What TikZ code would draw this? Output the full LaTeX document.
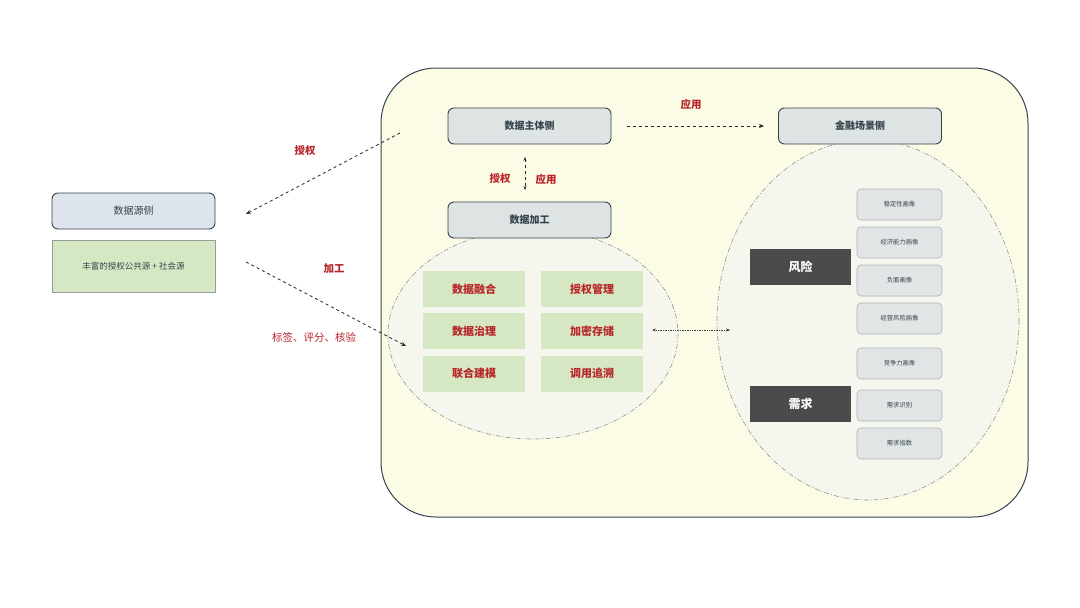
\documentclass[tikz,border=0pt]{standalone}
\usepackage{fontspec}
\setmainfont{Noto Sans CJK SC}
\usetikzlibrary{arrows.meta}
\definecolor{bigfill}{HTML}{FBFBE6}
\definecolor{ellfill}{HTML}{F5F7EF}
\definecolor{edge}{HTML}{34434C}
\definecolor{srcfill}{HTML}{DEE4EC}
\definecolor{boxfill}{HTML}{DEE3E3}
\definecolor{greenfill}{HTML}{D5E8C3}
\definecolor{redtxt}{HTML}{B8262A}
\definecolor{darkbox}{HTML}{4B4B4B}
\definecolor{smallfill}{HTML}{E1E5E6}
\definecolor{smalledge}{HTML}{AEB4B6}
\tikzset{
  mainbox/.style={draw=edge, line width=0.9pt, rounded corners=6pt, fill=boxfill, minimum width=163pt, minimum height=36pt, inner sep=0pt, font=\fontsize{10}{12}\selectfont\bfseries, text=edge},
  cell/.style={fill=greenfill, minimum width=102pt, minimum height=36pt, inner sep=0pt, font=\fontsize{11}{13}\selectfont\bfseries, text=redtxt},
  darkcell/.style={fill=darkbox, minimum width=101pt, minimum height=36pt, inner sep=0pt, font=\fontsize{12}{14}\selectfont\bfseries, text=white},
  smallbox/.style={draw=smalledge, line width=0.6pt, rounded corners=4pt, fill=smallfill, minimum width=85pt, minimum height=31pt, inner sep=0pt, font=\fontsize{6.3}{8}\selectfont, text=edge},
  lbl/.style={font=\fontsize{10.5}{12}\selectfont\bfseries, text=redtxt, inner sep=0pt},
  lblthin/.style={font=\fontsize{10.5}{12}\selectfont, text=redtxt, inner sep=0pt},
  dasharrow/.style={dashed, line width=0.8pt, draw=black!85, -{Stealth[length=5pt,width=4pt]}},
  ellstyle/.style={draw=gray!85, dash pattern=on 5pt off 2pt on 1pt off 2pt, line width=0.6pt, fill=ellfill}
}
\begin{document}
\begin{tikzpicture}[x=1pt,y=-1pt]
\useasboundingbox (0,0) rectangle (1080,608);
\fill[white] (0,0) rectangle (1080,608);
% big container
\draw[draw=edge, line width=1pt, fill=bigfill, rounded corners=55pt] (381,68) rectangle (1028,517);
% ellipses
\draw[ellstyle] (533,334) ellipse [x radius=145, y radius=105];
\draw[ellstyle] (868,320) ellipse [x radius=151, y radius=180];
% left side
\node[draw=edge, line width=0.9pt, rounded corners=6pt, fill=srcfill, minimum width=163pt, minimum height=36pt, inner sep=0pt, font=\fontsize{10}{12}\selectfont, text=edge] (src) at (133.5,211) {数据源侧};
\node[draw=gray!80, line width=0.7pt, fill=greenfill, minimum width=163pt, minimum height=52pt, inner sep=0pt, font=\fontsize{8.5}{10}\selectfont, text=edge] (rich) at (133.5,266) {丰富的授权公共源 + 社会源};
% main boxes
\node[mainbox] (subj) at (529.5,126) {数据主体侧};
\node[mainbox] (fin) at (860,126) {金融场景侧};
\node[mainbox] (proc) at (529.5,220) {数据加工};
% green cells
\node[cell] (c11) at (474,289) {数据融合};
\node[cell] (c12) at (592,289) {授权管理};
\node[cell] (c21) at (474,331) {数据治理};
\node[cell] (c22) at (592,331) {加密存储};
\node[cell] (c31) at (474,373.5) {联合建模};
\node[cell] (c32) at (592,373.5) {调用追溯};
% right side
\node[darkcell] (risk) at (800.5,266.5) {风险};
\node[darkcell] (need) at (800.5,404) {需求};
\node[smallbox] (s1) at (899.5,204.5) {稳定性画像};
\node[smallbox] (s2) at (899.5,242.5) {经济能力画像};
\node[smallbox] (s3) at (899.5,280.5) {负面画像};
\node[smallbox] (s4) at (899.5,318.5) {经营风险画像};
\node[smallbox] (s5) at (899.5,363.5) {竞争力画像};
\node[smallbox] (s6) at (899.5,405.5) {需求识别};
\node[smallbox] (s7) at (899.5,443.5) {需求指数};
% connector endpoints
\coordinate (a1s) at (400,133);
\coordinate (a1e) at (246,214);
\coordinate (a2s) at (246,262);
\coordinate (a2e) at (406,346);
\coordinate (h1s) at (627,126);
\coordinate (h1e) at (764,126);
\coordinate (v1s) at (525,157);
\coordinate (v1e) at (525,190);
\coordinate (d1s) at (652,330);
\coordinate (d1e) at (730,330);
\draw[dasharrow] (a1s) -- (a1e);
\draw[dasharrow] (a2s) -- (a2e);
\draw[dasharrow] (h1s) -- (h1e);
\draw[dashed, line width=0.7pt, draw=black!85, {Stealth[length=4pt,width=3pt]}-{Stealth[length=4pt,width=3pt]}] (v1s) -- (v1e);
\draw[densely dotted, line width=0.7pt, draw=black!75, {Stealth[length=4pt,width=3pt]}-{Stealth[length=4pt,width=3pt]}] (d1s) -- (d1e);
% labels
\node[lbl] (l1) at (305,151) {授权};
\node[lbl] (l2) at (334,269) {加工};
\node[lblthin] (l3) at (314,337) {标签、评分、核验};
\node[lbl] (l4) at (691,104) {应用};
\node[lbl] (l5) at (500,179) {授权};
\node[lbl] (l6) at (546,179) {应用};
\end{tikzpicture}
\end{document}
